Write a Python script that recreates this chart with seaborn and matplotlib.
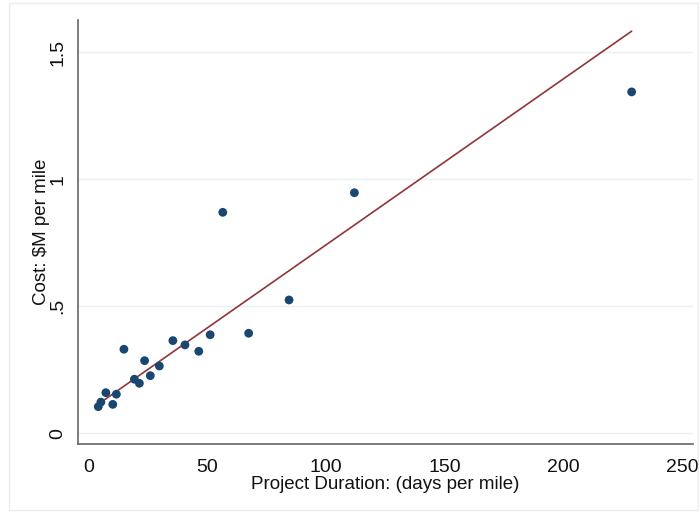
import matplotlib

matplotlib.use("Agg")
import matplotlib.pyplot as plt
import pandas as pd
import seaborn as sns
from matplotlib.patches import Rectangle

# project duration (days per mile) and cost ($M per mile)
duration = [4.2, 5.3, 7.4, 10.3, 11.8, 15.0, 19.4, 21.5, 23.7, 26.1,
            29.9, 35.6, 40.7, 46.5, 51.3, 56.6, 67.5, 84.5, 112.0, 228.7]
cost = [0.105, 0.123, 0.160, 0.114, 0.154, 0.331, 0.213, 0.197, 0.286, 0.227,
        0.265, 0.365, 0.348, 0.323, 0.388, 0.870, 0.394, 0.525, 0.947, 1.344]

# fitted line end points
fit_x = [4.2, 228.7]
fit_y = [0.115, 1.583]

x_ticks = [0, 50, 100, 150, 200, 250]
y_ticks = [0, 0.5, 1, 1.5]
y_tick_labels = ["0", ".5", "1", "1.5"]

NAVY = "#1a476f"
MAROON = "#90353b"


def main() -> None:
    sns.set_theme(style="white")
    plt.rcParams["font.family"] = ["Liberation Sans", "DejaVu Sans"]

    points = pd.DataFrame({"duration": duration, "cost": cost})
    fit = pd.DataFrame({"duration": fit_x, "cost": fit_y})

    fig = plt.figure(figsize=(6.99, 5.12), dpi=100)
    fig.patches.append(
        Rectangle((8.5 / 699, 0.004), 1 - 10 / 699, 1 - 3 / 512 - 0.004,
                  transform=fig.transFigure, fill=False,
                  edgecolor="#e8eeee", linewidth=1.0)
    )
    ax = fig.add_axes([77.7 / 699, 1 - 444 / 512, 615 / 699, 424 / 512])

    for y in y_ticks:
        ax.axhline(y, color="#eaf0f0", linewidth=1.0, zorder=0)

    sns.lineplot(data=fit, x="duration", y="cost", color=MAROON,
                 linewidth=1.2, ax=ax, zorder=2)
    sns.scatterplot(data=points, x="duration", y="cost", color=NAVY,
                    s=40, edgecolor="none", ax=ax, zorder=3)

    ax.set_xlim(-4.46, 254.4)
    ax.set_ylim(-0.042, 1.627)
    ax.set_xticks(x_ticks)
    ax.set_yticks(y_ticks)
    ax.set_yticklabels(y_tick_labels, rotation=90, va="center")

    ax.tick_params(axis="both", direction="out", length=7, width=1,
                   color="#777777", labelsize=14, labelcolor="#111111")
    ax.tick_params(axis="x", pad=4)
    ax.tick_params(axis="y", pad=1)

    for side in ["top", "right"]:
        ax.spines[side].set_visible(False)
    for side in ["left", "bottom"]:
        ax.spines[side].set_color("#666666")
        ax.spines[side].set_linewidth(1.2)

    ax.set_xlabel("Project Duration: (days per mile)", fontsize=13.5,
                  color="#111111", labelpad=0)
    ax.set_ylabel(r"Cost: \$M per mile", fontsize=13.5, color="#111111",
                  labelpad=0)

    fig.savefig("out.png", dpi=100)
    plt.close(fig)


if __name__ == "__main__":
    main()
